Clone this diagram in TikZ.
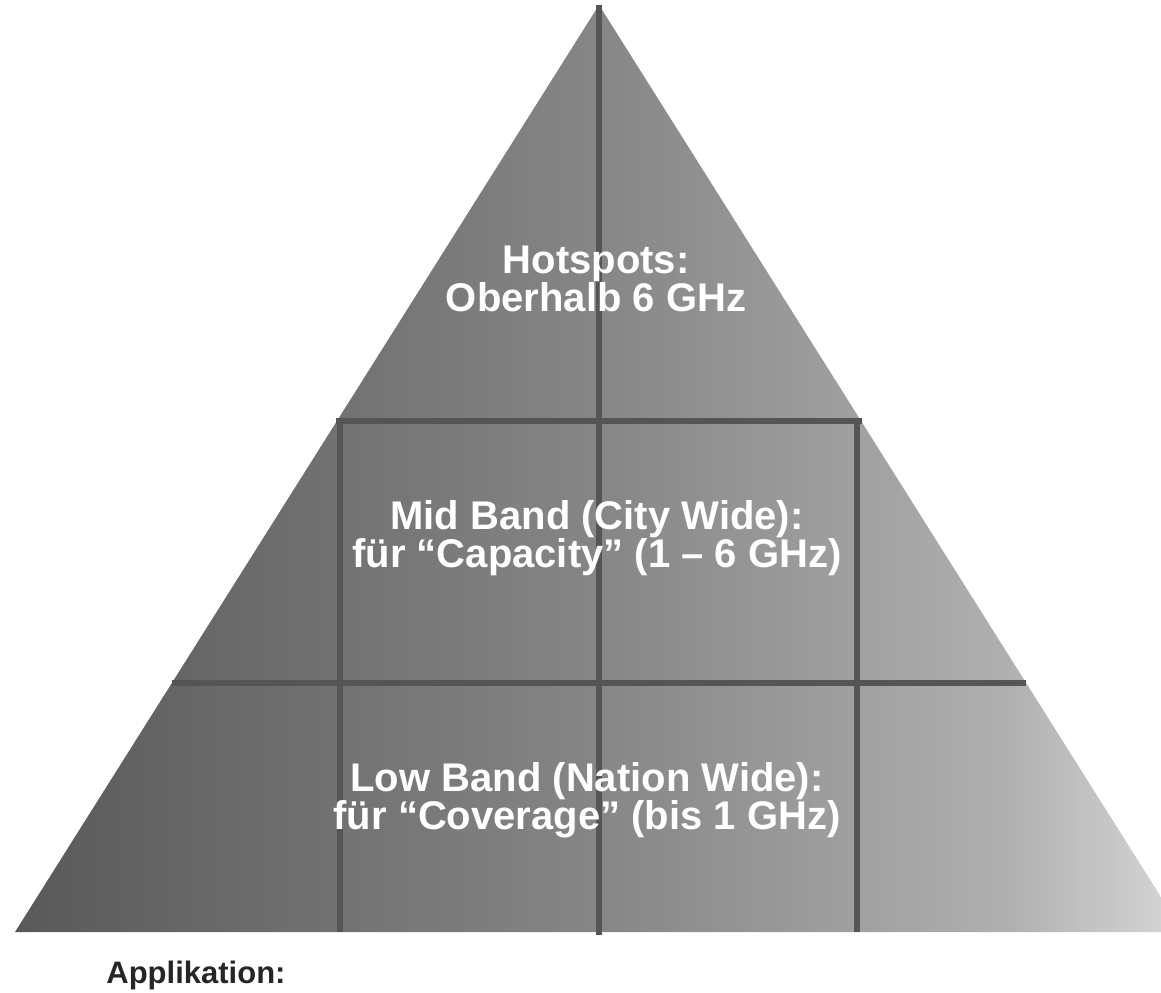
\documentclass[tikz,border=0pt]{standalone}
\usepackage{fontspec}
\setmainfont{Liberation Sans}
\usetikzlibrary{positioning}
\usepackage{xcolor}

\definecolor{pyrA}{RGB}{89,89,89}
\definecolor{pyrB}{RGB}{134,134,134}
\definecolor{pyrC}{RGB}{160,160,160}
\definecolor{pyrD}{RGB}{176,176,176}
\definecolor{pyrE}{RGB}{215,215,215}
\definecolor{gridgray}{RGB}{85,85,85}
\pgfdeclarehorizontalshading{pyramid}{100bp}{color(0bp)=(pyrA); color(25bp)=(pyrA);
  color(50bp)=(pyrB); color(61bp)=(pyrC); color(67.5bp)=(pyrD); color(75bp)=(pyrE); color(100bp)=(pyrE)}

\begin{document}
\begin{tikzpicture}[x=0.5pt, y=-0.5pt,
                    grid line/.style={draw=gridgray, line width=3pt},
                    band label/.style={text=white, align=center, inner sep=0pt,
                                       font=\fontsize{20}{19}\selectfont\bfseries}]

  \useasboundingbox (0,0) rectangle (1161,992);
  \clip (0,0) rectangle (1161,992);

  \coordinate (top) at (599,5);
  \coordinate (bl) at (15,932);
  \coordinate (br) at (1183,932);

  \shade[shading=pyramid] (top) -- (bl) -- (br) -- cycle;

  % band boundaries
  \coordinate (ul) at (336,421);
  \coordinate (ur) at (862,421);
  \coordinate (ll) at (172,683);
  \coordinate (lr) at (1026,683);
  \coordinate (c1) at (340,421);
  \coordinate (c2) at (857,421);
  \coordinate (b1) at (340,932);
  \coordinate (b2) at (857,932);
  \coordinate (mid) at (599,935);

  \path[grid line]
    (top) edge (mid)
    (ul) edge (ur)
    (ll) edge (lr)
    (c1) edge (b1)
    (c2) edge (b2);

  \node[band label] (1) at (596,279) {Hotspots:\\Oberhalb 6 GHz};
  \node[band label] (2) at (597,538) {Mid Band (City Wide):\\für “Capacity” (1 – 6 GHz)};
  \node[band label] (3) at (587,800) {Low Band (Nation Wide):\\für “Coverage” (bis 1 GHz)};

  \node[anchor=base west, inner sep=0pt, text=black!85,
        font=\fontsize{15.5}{18}\selectfont\bfseries] (4) at (106,983) {Applikation:};
\end{tikzpicture}
\end{document}
